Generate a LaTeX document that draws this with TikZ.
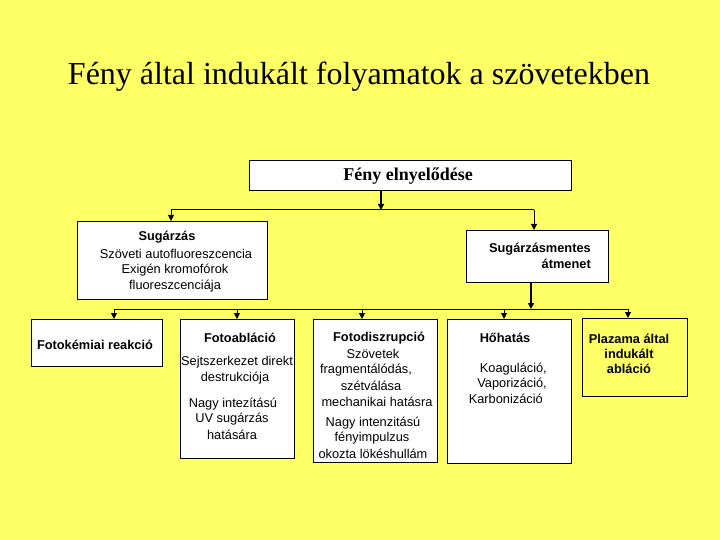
\documentclass[tikz,border=0pt]{standalone}
\usepackage{fontspec}
\setmainfont{Liberation Sans}
\newfontfamily\seriffont{Liberation Serif}
\usetikzlibrary{arrows.meta}
\definecolor{bg}{RGB}{255,255,102}
\begin{document}
\begin{tikzpicture}[x=1pt,y=-1pt,
 box/.style={draw=black, line width=0.9pt, fill=white, anchor=north west, inner sep=0pt},
 ybox/.style={box, fill=bg},
 txt/.style={font=\fontsize{12.8}{14}\selectfont, inner sep=0pt},
 btxt/.style={font=\fontsize{12.8}{14}\selectfont\bfseries, inner sep=0pt},
 arr/.style={-{Triangle[width=6pt,length=6pt]}, line width=1pt},
 thickarr/.style={-{Triangle[width=6pt,length=6pt]}, line width=2pt},
 ln/.style={line width=1pt}]
\fill[bg] (0,0) rectangle (720,540);
\useasboundingbox (0,0) rectangle (720,540);

% title
\node[inner sep=0pt, font=\seriffont\fontsize{32}{36}\selectfont] (title) at (359,77) {Fény által indukált folyamatok a szövetekben};

% boxes
\node[box, minimum width=322pt, minimum height=30pt] (top) at (249,160) {};
\node[box, minimum width=190pt, minimum height=78pt] (sug) at (77,221) {};
\node[box, minimum width=142pt, minimum height=52pt] (sm) at (466,230) {};
\node[box, minimum width=131pt, minimum height=47pt] (fk) at (31,319) {};
\node[box, minimum width=114pt, minimum height=139pt] (fa) at (180,319) {};
\node[box, minimum width=124pt, minimum height=143pt] (fd) at (313,319) {};
\node[box, minimum width=124pt, minimum height=144pt] (hh) at (447,319) {};
\node[ybox, minimum width=105pt, minimum height=78pt] (pl) at (582,318) {};

% texts
\node[inner sep=0pt, font=\seriffont\fontsize{18}{20}\selectfont\bfseries] (toptxt) at (408,176) {Fény elnyelődése};

\node[btxt] (s1) at (167,237) {Sugárzás};
\node[txt] (s2) at (176,254) {Szöveti autofluoreszcencia};
\node[txt] (s3) at (175,270) {Exigén kromofórok};
\node[txt] (s4) at (175,286) {fluoreszcenciája};

\node[btxt, anchor=east] (m1) at (591,249) {Sugárzásmentes};
\node[btxt, anchor=east] (m2) at (591,264) {átmenet};

\node[btxt] (k1) at (95,345) {Fotokémiai reakció};

\node[btxt] (a1) at (240,338) {Fotoabláció};
\node[txt] (a2) at (237,362) {Sejtszerkezet direkt};
\node[txt] (a3) at (235,378) {destrukciója};
\node[txt] (a4) at (233,404) {Nagy intezítású};
\node[txt] (a5) at (232,419) {UV sugárzás};
\node[txt] (a6) at (232,435) {hatására};

\node[btxt] (d1) at (379,338) {Fotodiszrupció};
\node[txt] (d2) at (373,354) {Szövetek};
\node[txt] (d3) at (366,370) {fragmentálódás,};
\node[txt] (d4) at (371,386) {szétválása};
\node[txt] (d5) at (377,402) {mechanikai hatásra};
\node[txt] (d6) at (373,423) {Nagy intenzitású};
\node[txt] (d7) at (372,438) {fényimpulzus};
\node[txt] (d8) at (373,454) {okozta lökéshullám};

\node[btxt] (h1) at (505,338) {Hőhatás};
\node[txt, anchor=east] (h2) at (547,369) {Koaguláció,};
\node[txt, anchor=east] (h3) at (547,384) {Vaporizáció,};
\node[txt, anchor=east] (h4) at (543,399) {Karbonizáció};

\node[btxt] (p1) at (629,339) {Plazama által};
\node[btxt] (p2) at (629,354) {indukált};
\node[btxt] (p3) at (629,369) {abláció};

% connectors
\coordinate (j1) at (381,210);
\coordinate (j1l) at (171,210);
\coordinate (j1r) at (534,210);
\draw[thickarr] (top.south -| j1) -- (j1);
\draw[ln] (j1l) -- (j1r);
\draw[arr] (j1l) -- (j1l |- sug.north);
\draw[arr] (j1r) -- (j1r |- sm.north);

\coordinate (j2) at (531,309);
\coordinate (j2l) at (114,309);
\coordinate (j2r) at (628,309);
\draw[thickarr] (sm.south -| j2) -- (j2);
\draw[ln] (j2l) -- (j2r);
\draw[arr] (j2l) -- (j2l |- fk.north);
\draw[arr] (237,309) -- (237,319);
\draw[arr] (362,309) -- (362,319);
\draw[arr] (504,309) -- (504,319);
\draw[arr] (j2r) -- (j2r |- pl.north);
\end{tikzpicture}
\end{document}
